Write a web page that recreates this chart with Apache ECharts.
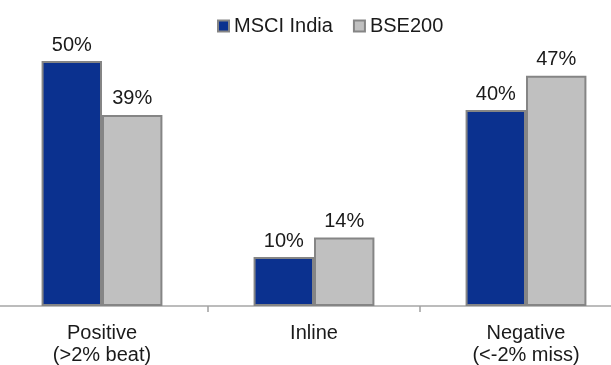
<!DOCTYPE html>
<html>
<head>
<meta charset="utf-8">
<script src="https://cdn.jsdelivr.net/npm/echarts@6/dist/echarts.min.js"></script>
<style>
  html, body { margin: 0; padding: 0; background: #fff; }
  #chart { width: 611px; height: 365px; }
</style>
</head>
<body>
<div id="chart"></div>
<script>
// categories and values (share of companies, %)
const categories = ['Positive\n(>2% beat)', 'Inline', 'Negative\n(<-2% miss)']
const msciIndia = [50, 10, 40]
const bse200 = [39, 14, 47]

const chart = echarts.init(document.getElementById('chart'))

const labelStyle = {
  show: true,
  position: 'top',
  distance: 6,
  formatter: '{c}%',
  color: '#1a1a1a',
  fontSize: 20,
  fontFamily: 'Liberation Sans',
}

chart.setOption({
  animation: false,
  legend: {
    top: 11,
    left: 212,
    icon: 'rect',
    itemWidth: 11,
    itemHeight: 11,
    itemGap: 20,
    textStyle: { color: '#1a1a1a', fontSize: 20, fontFamily: 'Liberation Sans' },
    data: ['MSCI India', 'BSE200'],
  },
  // the plot area runs a little past both edges of the picture
  grid: {
    left: -4,
    width: 636,
    top: 12,
    bottom: 59,
    outerBoundsMode: 'none',
  },
  xAxis: {
    type: 'category',
    data: categories,
    axisLine: { lineStyle: { color: '#a6a6a6', width: 1.5 } },
    axisTick: { show: true, interval: 0, length: 6, lineStyle: { color: '#a0a0a0', width: 1.5 } },
    axisLabel: {
      margin: 16,
      lineHeight: 22,
      color: '#1a1a1a',
      fontSize: 20,
      fontFamily: 'Liberation Sans',
    },
  },
  yAxis: {
    type: 'value',
    min: 0,
    max: 60,
    show: false,
    splitLine: { show: false },
  },
  series: [
    {
      name: 'MSCI India',
      type: 'bar',
      data: msciIndia,
      barGap: 0,
      barCategoryGap: '43%',
      itemStyle: { color: '#0b318f', borderColor: '#858585', borderWidth: 2 },
      label: labelStyle,
    },
    {
      name: 'BSE200',
      type: 'bar',
      data: bse200,
      itemStyle: { color: '#c0c0c0', borderColor: '#858585', borderWidth: 2 },
      label: labelStyle,
    },
  ],
})
</script>
</body>
</html>
